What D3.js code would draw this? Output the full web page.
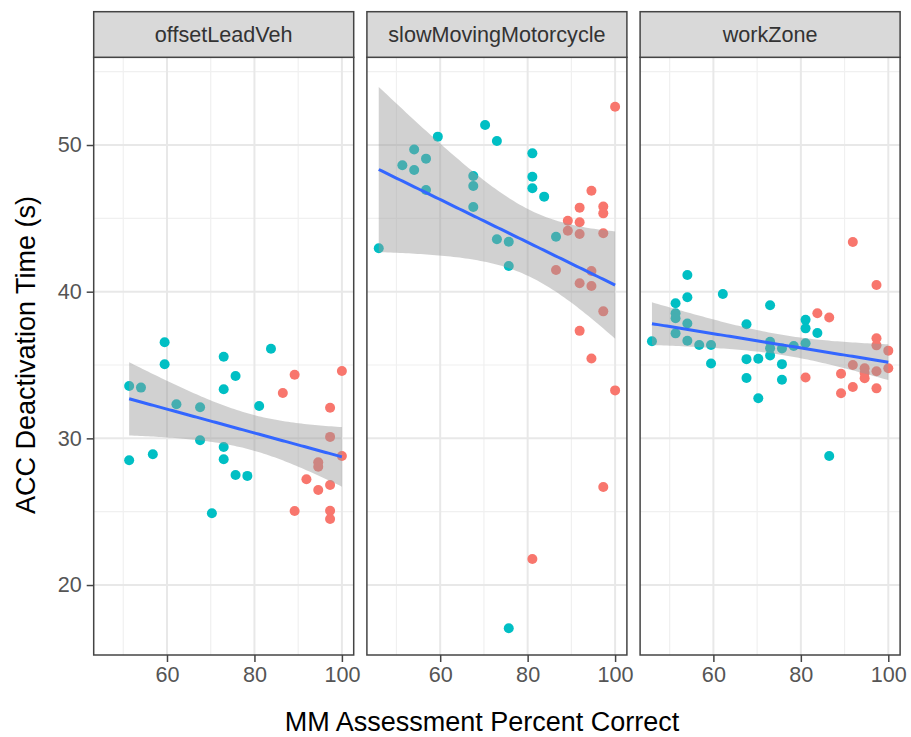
<!DOCTYPE html>
<html><head><meta charset="utf-8">
<script src="https://cdn.jsdelivr.net/npm/d3@7"></script>
<style>body{margin:0;background:#fff}</style>
</head><body><svg id="c" width="911" height="737"></svg>
<script>
// ---------- data ----------
const facetNames = ["offsetLeadVeh", "slowMovingMotorcycle", "workZone"];
const xTicks = [60, 80, 100];
const yTicks = [20, 30, 40, 50];
const xLabel = "MM Assessment Percent Correct";
const yLabel = "ACC Deactivation Time (s)";

// offsetLeadVeh
const offsetTealX = [59.46,59.46,51.35,54.05,72.97,75.68,72.97,83.78,62.16,67.57,81.08,67.57,72.97,72.97,51.35,56.76,75.68,78.38,70.27];
const offsetTealY = [36.55,35.05,33.57,33.46,35.57,34.25,33.35,36.11,32.32,32.12,32.21,29.87,29.41,28.57,28.51,28.92,27.50,27.44,24.89];
const offsetRedX  = [89.19,100,86.49,97.30,97.30,100,94.59,94.59,91.89,94.59,97.30,89.19,97.30,97.30];
const offsetRedY  = [34.34,34.59,33.09,32.09,30.10,28.80,28.37,28.07,27.21,26.48,26.82,25.05,25.07,24.50];

// slowMovingMotorcycle
const slowTealX = [45.95,51.35,54.05,54.05,56.76,56.76,59.46,67.57,67.57,67.57,70.27,72.97,72.97,75.68,75.68,75.68,81.08,81.08,81.08,83.78,86.49];
const slowTealY = [42.96,48.62,49.70,48.30,49.07,46.93,50.57,47.89,47.20,45.77,51.36,50.27,43.57,43.41,41.75,17.05,49.43,47.84,47.05,46.48,43.75];
const slowRedX  = [100,94.59,91.89,97.30,97.30,89.19,91.89,89.19,91.89,97.30,86.49,94.59,91.89,94.59,97.30,91.89,94.59,100,97.30,81.08];
const slowRedY  = [52.61,46.88,45.73,45.80,45.34,44.84,44.73,44.16,43.93,43.98,41.48,41.41,40.57,40.39,38.66,37.33,35.45,33.27,26.68,21.77];

// workZone
const workTealX = [45.95,51.35,51.35,51.35,51.35,54.05,54.05,54.05,54.05,56.76,59.46,59.46,62.16,67.57,67.57,67.57,70.27,70.27,72.97,72.97,72.97,72.97,75.68,75.68,75.68,78.38,81.08,81.08,81.08,83.78,86.49];
const workTealY = [36.62,39.21,38.53,38.19,37.16,41.14,39.62,37.83,36.65,36.36,36.36,35.10,39.84,37.78,35.40,34.11,35.43,32.73,39.08,36.59,36.14,35.65,36.13,35.06,34.00,36.30,38.08,37.50,36.48,37.18,28.80];
const workRedX  = [91.89,97.30,83.78,86.49,97.30,97.30,100,100,81.08,89.19,89.19,91.89,91.89,94.59,94.59,94.59,97.30,97.30];
const workRedY  = [43.39,40.46,38.53,38.24,36.82,36.34,35.98,34.78,34.15,34.41,33.07,35.00,33.50,34.78,34.45,34.10,34.58,33.41];

const facetTeal = [[offsetTealX, offsetTealY], [slowTealX, slowTealY], [workTealX, workTealY]];
const facetRed  = [[offsetRedX, offsetRedY], [slowRedX, slowRedY], [workRedX, workRedY]];

// ---------- layout ----------
const panelX0 = [93.7, 366.9, 640.1];
const panelW = 260;
const panelTop = 57.3, panelBottom = 655;
const stripTop = 11.7;
const TEAL = "#00BFC4", RED = "#F8766D";
const FONT = "'Liberation Sans', Arial, sans-serif";

const svg = d3.select("#c");
const y = d3.scaleLinear().domain([15.23, 55.98]).range([panelBottom, panelTop]);

function tq(df) { // 97.5% t quantile approx
  const z = 1.959964;
  return z + (z**3 + z)/(4*df) + (5*z**5 + 16*z**3 + 3*z)/(96*df*df) + (3*z**7+19*z**5+17*z**3-15*z)/(384*df**3);
}

function fit(xs, ys) {
  const n = xs.length;
  const mx = d3.mean(xs), my = d3.mean(ys);
  let sxx = 0, sxy = 0;
  for (let i = 0; i < n; i++) { sxx += (xs[i]-mx)**2; sxy += (xs[i]-mx)*(ys[i]-my); }
  const b = sxy/sxx, a = my - b*mx;
  let sse = 0;
  for (let i = 0; i < n; i++) sse += (ys[i] - a - b*xs[i])**2;
  const s = Math.sqrt(sse/(n-2));
  const t = tq(n-2);
  const [lo, hi] = d3.extent(xs);
  const pts = d3.range(80).map(i => {
    const xv = lo + (hi-lo)*i/79;
    const yv = a + b*xv;
    const se = s*Math.sqrt(1/n + (xv-mx)**2/sxx);
    return {x: xv, y: yv, lo: yv - t*se, hi: yv + t*se};
  });
  return pts;
}

facetNames.forEach((name, fi) => {
  const x0 = panelX0[fi];
  const x = d3.scaleLinear().domain([43.24, 102.70]).range([x0, x0 + panelW]);
  const g = svg.append("g");

  // background
  g.append("rect").attr("x", x0).attr("y", panelTop).attr("width", panelW).attr("height", panelBottom-panelTop).attr("fill", "#fff");

  // minor grid
  const xMinor = [50, 70, 90];
  const yMinor = [25, 35, 45, 55];
  g.selectAll(".xm").data(xMinor).enter().append("line")
    .attr("x1", d => x(d)).attr("x2", d => x(d)).attr("y1", panelTop).attr("y2", panelBottom)
    .attr("stroke", "#f0f0f0").attr("stroke-width", 1.2);
  g.selectAll(".ym").data(yMinor).enter().append("line")
    .attr("x1", x0).attr("x2", x0+panelW).attr("y1", d => y(d)).attr("y2", d => y(d))
    .attr("stroke", "#f0f0f0").attr("stroke-width", 1.2);
  // major grid
  g.selectAll(".xM").data(xTicks).enter().append("line")
    .attr("x1", d => x(d)).attr("x2", d => x(d)).attr("y1", panelTop).attr("y2", panelBottom)
    .attr("stroke", "#e8e8e8").attr("stroke-width", 2);
  g.selectAll(".yM").data(yTicks).enter().append("line")
    .attr("x1", x0).attr("x2", x0+panelW).attr("y1", d => y(d)).attr("y2", d => y(d))
    .attr("stroke", "#e8e8e8").attr("stroke-width", 2);

  // points
  const teal = facetTeal[fi], red = facetRed[fi];
  const all = [];
  teal[0].forEach((v, i) => all.push({x: v, y: teal[1][i], c: TEAL}));
  red[0].forEach((v, i) => all.push({x: v, y: red[1][i], c: RED}));
  g.selectAll(".pt").data(all).enter().append("circle")
    .attr("cx", d => x(d.x)).attr("cy", d => y(d.y)).attr("r", 5)
    .attr("fill", d => d.c);

  // smooth
  const xs = all.map(d => d.x), ys = all.map(d => d.y);
  const f = fit(xs, ys);
  g.append("path").datum(f)
    .attr("d", d3.area().x(d => x(d.x)).y0(d => y(d.lo)).y1(d => y(d.hi)))
    .attr("fill", "#999999").attr("fill-opacity", 0.45);
  g.append("path").datum(f)
    .attr("d", d3.line().x(d => x(d.x)).y(d => y(d.y)))
    .attr("fill", "none").attr("stroke", "#3366FF").attr("stroke-width", 3);

  // panel border
  g.append("rect").attr("x", x0).attr("y", panelTop).attr("width", panelW).attr("height", panelBottom-panelTop)
    .attr("fill", "none").attr("stroke", "#444").attr("stroke-width", 1.5);

  // strip
  g.append("rect").attr("x", x0).attr("y", stripTop).attr("width", panelW).attr("height", panelTop-stripTop)
    .attr("fill", "#d9d9d9").attr("stroke", "#444").attr("stroke-width", 1.5);
  g.append("text").attr("x", x0 + panelW/2).attr("y", (stripTop+panelTop)/2)
    .attr("text-anchor", "middle").attr("dominant-baseline", "central")
    .attr("font-family", FONT).attr("font-size", 21.6).attr("fill", "#333")
    .text(name);

  // x axis
  const xa = g.append("g").attr("transform", `translate(0,${panelBottom})`)
    .call(d3.axisBottom(x).tickValues(xTicks).tickSize(7).tickPadding(5).tickFormat(d3.format("d")));
  xa.select(".domain").remove();
  xa.selectAll("line").attr("stroke", "#444").attr("stroke-width", 1.5);
  xa.selectAll("text").attr("font-family", FONT).attr("font-size", 21.6).attr("fill", "#555");

  if (fi === 0) {
    const ya = g.append("g").attr("transform", `translate(${x0},0)`)
      .call(d3.axisLeft(y).tickValues(yTicks).tickSize(7).tickPadding(5).tickFormat(d3.format("d")));
    ya.select(".domain").remove();
    ya.selectAll("line").attr("stroke", "#444").attr("stroke-width", 1.5);
    ya.selectAll("text").attr("font-family", FONT).attr("font-size", 21.6).attr("fill", "#555");
  }
});

svg.append("text").attr("x", 482).attr("y", 731)
  .attr("text-anchor", "middle").attr("font-family", FONT).attr("font-size", 27).attr("fill", "#000")
  .text(xLabel);
svg.append("text").attr("transform", `translate(35,355) rotate(-90)`)
  .attr("text-anchor", "middle").attr("font-family", FONT).attr("font-size", 27).attr("fill", "#000")
  .text(yLabel);
</script>
</body></html>
